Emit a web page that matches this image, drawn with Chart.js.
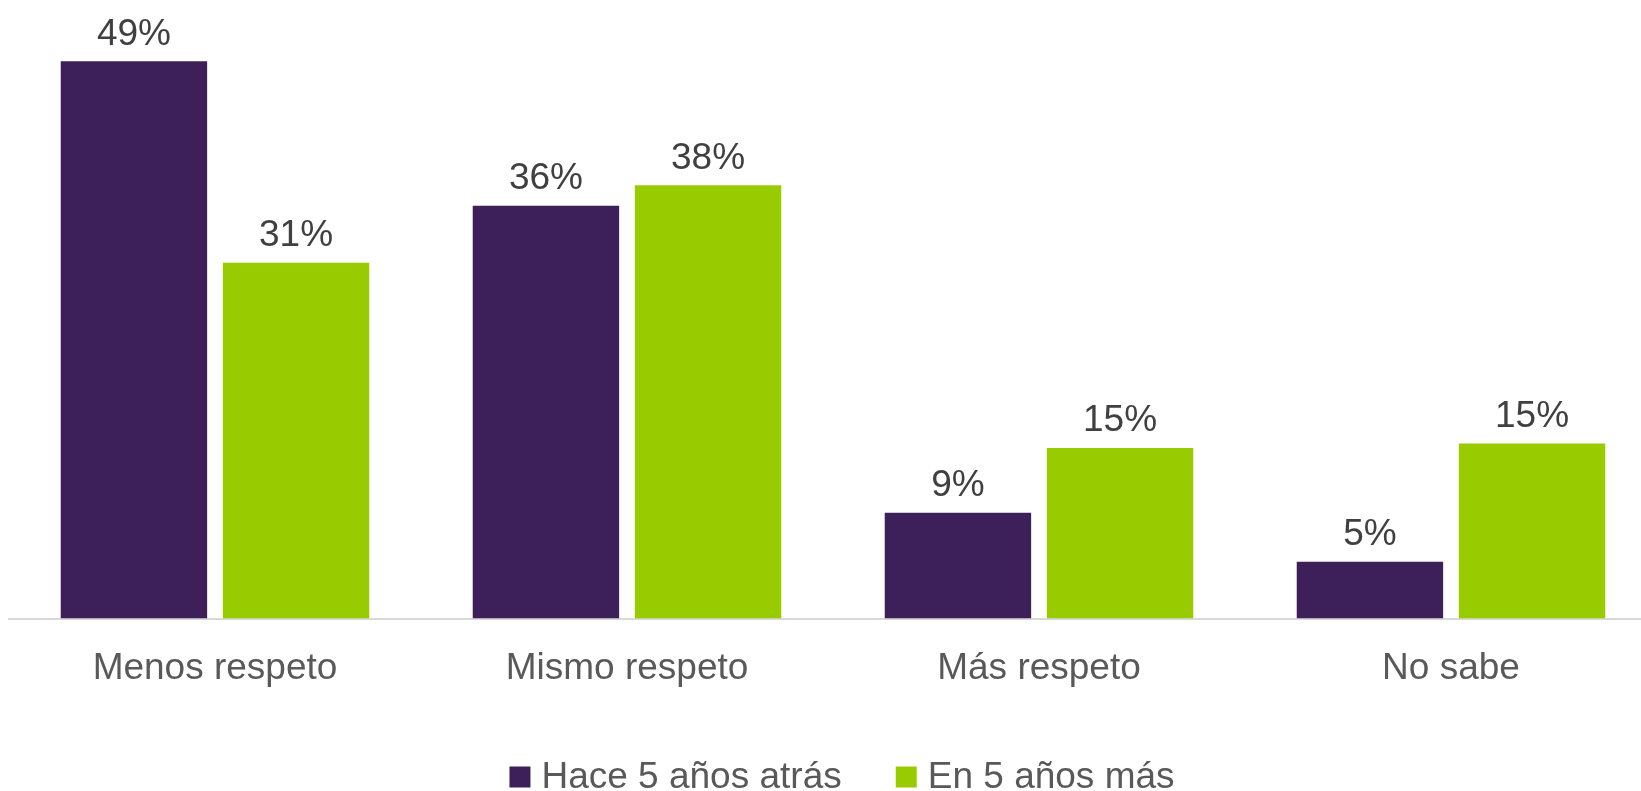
<!DOCTYPE html>
<html>
<head>
<meta charset="utf-8">
<script src="https://cdn.jsdelivr.net/npm/chart.js@4"></script>
<style>
  html, body { margin: 0; padding: 0; background: #fff; overflow: hidden; }
  #wrap { width: 1666px; height: 791px; position: relative; }
</style>
</head>
<body>
<div id="wrap"><canvas id="bar-chart"></canvas></div>
<script>
const categories = ['Menos respeto', 'Mismo respeto', 'Más respeto', 'No sabe'];
const seriesNames = ['Hace 5 años atrás', 'En 5 años más'];
const hace5 = [49, 36.3, 9.3, 5];
const en5 = [31.3, 38.1, 15, 15.4];
const colors = ['#3D2059', '#99CC00'];

const FONT = "'Liberation Sans', Arial, sans-serif";

// value labels above bars
const valueLabels = {
  id: 'valueLabels',
  afterDatasetsDraw(chart) {
    const ctx = chart.ctx;
    ctx.save();
    ctx.font = '37px ' + FONT;
    ctx.fillStyle = '#404040';
    ctx.textAlign = 'center';
    ctx.textBaseline = 'middle';
    chart.data.datasets.forEach((ds, i) => {
      chart.getDatasetMeta(i).data.forEach((bar, j) => {
        ctx.fillText(Math.round(ds.data[j]) + '%', bar.x, bar.y - 27);
      });
    });
    ctx.restore();
  }
};

// legend drawn by hand so spacing matches
const bottomLegend = {
  id: 'bottomLegend',
  afterDraw(chart) {
    const ctx = chart.ctx;
    ctx.save();
    ctx.font = '37px ' + FONT;
    ctx.textBaseline = 'middle';
    const box = 21, gapText = 11, gapItem = 54;
    const items = chart.data.datasets.map(ds => ({
      text: ds.label, color: ds.backgroundColor, w: ctx.measureText(ds.label).width
    }));
    let total = 0;
    items.forEach((it, i) => { total += box + gapText + it.w + (i ? gapItem : 0); });
    let x = chart.width / 2 - total / 2 + 9;
    const y = 777;
    items.forEach(it => {
      ctx.fillStyle = it.color;
      ctx.fillRect(x, y - box / 2, box, box);
      x += box + gapText;
      ctx.fillStyle = '#595959';
      ctx.fillText(it.text, x, y + 1);
      x += it.w + gapItem;
    });
    ctx.restore();
  }
};

new Chart(document.getElementById('bar-chart'), {
  type: 'bar',
  data: {
    labels: categories,
    datasets: [
      { label: seriesNames[0], data: hace5, backgroundColor: colors[0] },
      { label: seriesNames[1], data: en5, backgroundColor: colors[1] }
    ]
  },
  options: {
    responsive: true,
    maintainAspectRatio: false,
    animation: false,
    datasets: { bar: { categoryPercentage: 0.787, barPercentage: 0.903 } },
    layout: { padding: { top: 50, left: 9, right: 9, bottom: 72 } },
    plugins: {
      legend: { display: false },
      tooltip: { enabled: false }
    },
    scales: {
      x: {
        grid: { display: false, drawTicks: false },
        border: { display: true, color: '#D9D9D9', width: 2 },
        ticks: { color: '#595959', font: { family: FONT, size: 37 }, padding: 28 }
      },
      y: {
        display: false,
        min: 0,
        max: 50
      }
    }
  },
  plugins: [valueLabels, bottomLegend]
});
</script>
</body>
</html>
